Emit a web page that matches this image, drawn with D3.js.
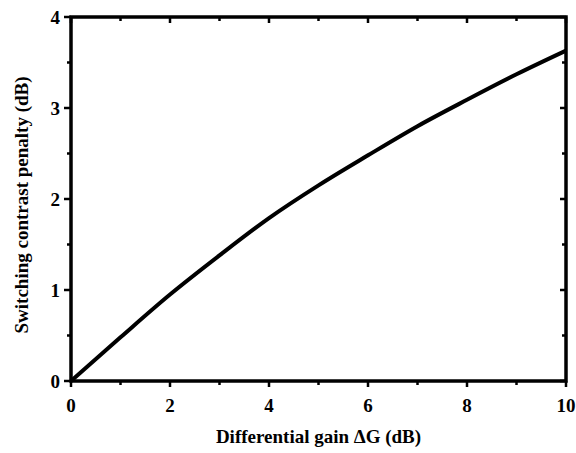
<!DOCTYPE html>
<html>
<head>
<meta charset="utf-8">
<script src="https://cdn.jsdelivr.net/npm/d3@7"></script>
<style>
  body { margin: 0; background: #fff; }
  text { font-family: "Liberation Serif", "Times New Roman", serif; font-weight: bold; fill: #000; }
</style>
</head>
<body>
<div id="chart"></div>
<script>
var xAxisLabel = 'Differential gain \u0394G (dB)'
var yAxisLabel = 'Switching contrast penalty (dB)'

// curve
var gainValues = [0, 1, 2, 3, 4, 5, 6, 7, 8, 9, 10]
var penaltyValues = [0, 0.48, 0.95, 1.38, 1.79, 2.15, 2.48, 2.80, 3.09, 3.37, 3.63]

var xTicks = [0, 2, 4, 6, 8, 10]
var xMinorTicks = [1, 3, 5, 7, 9]
var yTicks = [0, 1, 2, 3, 4]
var yMinorTicks = [0.5, 1.5, 2.5, 3.5]

var margin = {top: 17, right: 10, bottom: 72, left: 71},
    width = 576 - margin.left - margin.right,
    height = 453 - margin.top - margin.bottom;

var xScale = d3.scaleLinear().domain([0, 10]).range([0, width]);
var yScale = d3.scaleLinear().domain([0, 4]).range([height, 0]);

var svg = d3.select('#chart')
    .append('svg')
    .attr('width', 576)
    .attr('height', 453);

var g = svg.append('g')
    .attr('transform', 'translate(' + margin.left + ',' + margin.top + ')');

// frame
g.append('rect')
    .attr('x', 0).attr('y', 0)
    .attr('width', width).attr('height', height)
    .attr('fill', 'none')
    .attr('stroke', '#000')
    .attr('stroke-width', 3.5);

// outward ticks bottom/left
g.selectAll('.xtick').data(xTicks).enter().append('line')
    .attr('x1', function(d) { return xScale(d); })
    .attr('x2', function(d) { return xScale(d); })
    .attr('y1', height).attr('y2', height + 6)
    .attr('stroke', '#000').attr('stroke-width', 2.5);
g.selectAll('.xminor').data(xMinorTicks).enter().append('line')
    .attr('x1', function(d) { return xScale(d); })
    .attr('x2', function(d) { return xScale(d); })
    .attr('y1', height).attr('y2', height + 4)
    .attr('stroke', '#000').attr('stroke-width', 2.5);
g.selectAll('.ytick').data(yTicks).enter().append('line')
    .attr('y1', function(d) { return yScale(d); })
    .attr('y2', function(d) { return yScale(d); })
    .attr('x1', 0).attr('x2', -7)
    .attr('stroke', '#000').attr('stroke-width', 2.5);
g.selectAll('.yminor').data(yMinorTicks).enter().append('line')
    .attr('y1', function(d) { return yScale(d); })
    .attr('y2', function(d) { return yScale(d); })
    .attr('x1', 0).attr('x2', -4)
    .attr('stroke', '#000').attr('stroke-width', 2.5);

// inward ticks top/right
g.selectAll('.xtop').data(xTicks.concat(xMinorTicks)).enter().append('line')
    .attr('x1', function(d) { return xScale(d); })
    .attr('x2', function(d) { return xScale(d); })
    .attr('y1', 0).attr('y2', function(d) { return xTicks.includes(d) ? 6 : 4; })
    .attr('stroke', '#000').attr('stroke-width', 2.5);
g.selectAll('.yright').data(yTicks.concat(yMinorTicks)).enter().append('line')
    .attr('y1', function(d) { return yScale(d); })
    .attr('y2', function(d) { return yScale(d); })
    .attr('x1', width).attr('x2', function(d) { return yTicks.includes(d) ? width - 6 : width - 4; })
    .attr('stroke', '#000').attr('stroke-width', 2.5);

// tick labels
g.selectAll('.xlabel').data(xTicks).enter().append('text')
    .attr('x', function(d) { return xScale(d); })
    .attr('y', height + 31)
    .attr('text-anchor', 'middle')
    .style('font-size', '19px')
    .text(function(d) { return d; });
g.selectAll('.ylabel').data(yTicks).enter().append('text')
    .attr('x', -11)
    .attr('y', function(d) { return yScale(d) + 7; })
    .attr('text-anchor', 'end')
    .style('font-size', '19px')
    .text(function(d) { return d; });

// axis titles
g.append('text')
    .attr('x', width / 2)
    .attr('y', height + 62)
    .attr('text-anchor', 'middle')
    .style('font-size', '19px')
    .text(xAxisLabel);
g.append('text')
    .attr('transform', 'rotate(-90)')
    .attr('x', -height / 2 - 6)
    .attr('y', -43)
    .attr('text-anchor', 'middle')
    .style('font-size', '19px')
    .text(yAxisLabel);

// curve
var points = gainValues.map(function(d, i) { return [d, penaltyValues[i]]; });
var line = d3.line()
    .x(function(d) { return xScale(d[0]); })
    .y(function(d) { return yScale(d[1]); })
    .curve(d3.curveMonotoneX);
g.append('path')
    .datum(points)
    .attr('d', line)
    .attr('fill', 'none')
    .attr('stroke', '#000')
    .attr('stroke-width', 4);
</script>
</body>
</html>
